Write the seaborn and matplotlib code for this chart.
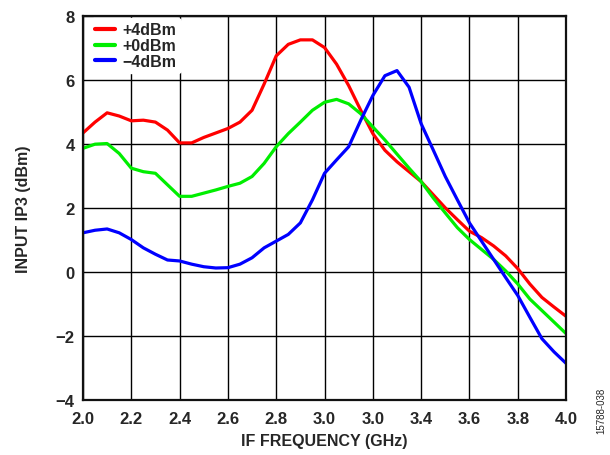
import matplotlib
matplotlib.use("Agg")
import matplotlib.pyplot as plt
import pandas as pd
import seaborn as sns

# IF frequency (GHz)
freq = [2.00, 2.05, 2.10, 2.15, 2.20, 2.25, 2.30, 2.35, 2.40, 2.45,
        2.50, 2.55, 2.60, 2.65, 2.70, 2.75, 2.80, 2.85, 2.90, 2.95,
        3.00, 3.05, 3.10, 3.15, 3.20, 3.25, 3.30, 3.35, 3.40, 3.45,
        3.50, 3.55, 3.60, 3.65, 3.70, 3.75, 3.80, 3.85, 3.90, 3.95, 4.00]

# input IP3 (dBm) per LO drive level
ip3_p4 = [4.34, 4.68, 4.97, 4.87, 4.72, 4.74, 4.68, 4.43, 4.03, 4.03,
          4.20, 4.34, 4.48, 4.68, 5.05, 5.87, 6.75, 7.11, 7.25, 7.25,
          7.01, 6.49, 5.82, 5.05, 4.32, 3.80, 3.44, 3.13, 2.82, 2.41,
          2.00, 1.63, 1.27, 1.07, 0.81, 0.50, 0.10, -0.38, -0.80, -1.10, -1.39]
ip3_0 = [3.86, 3.99, 4.01, 3.70, 3.24, 3.13, 3.08, 2.72, 2.36, 2.36,
         2.46, 2.56, 2.67, 2.77, 2.98, 3.39, 3.91, 4.32, 4.68, 5.05,
         5.30, 5.39, 5.25, 4.94, 4.53, 4.12, 3.68, 3.24, 2.82, 2.31,
         1.84, 1.38, 1.01, 0.70, 0.39, 0.03, -0.38, -0.85, -1.21, -1.57, -1.93]
ip3_m4 = [1.22, 1.30, 1.34, 1.22, 1.01, 0.75, 0.55, 0.37, 0.34, 0.24,
          0.16, 0.12, 0.13, 0.24, 0.44, 0.75, 0.96, 1.17, 1.53, 2.25,
          3.08, 3.50, 3.91, 4.74, 5.51, 6.13, 6.29, 5.77, 4.63, 3.81,
          2.98, 2.25, 1.53, 0.96, 0.39, -0.18, -0.74, -1.42, -2.09, -2.50, -2.86]

series = ["+4dBm", "+0dBm", "\u22124dBm"]
colors = ["#ff0000", "#00ee00", "#0000ff"]

xticks = [2.0, 2.2, 2.4, 2.6, 2.8, 3.0, 3.2, 3.4, 3.6, 3.8, 4.0]
xtick_labels = ["2.0", "2.2", "2.4", "2.6", "2.8", "3.0", "3.0", "3.4", "3.6", "3.8", "4.0"]
yticks = [-4, -2, 0, 2, 4, 6, 8]
ytick_labels = ["\u22124", "\u22122", "0", "2", "4", "6", "8"]

df = pd.concat([
    pd.DataFrame({"freq": freq, "ip3": vals, "level": name})
    for name, vals in zip(series, [ip3_p4, ip3_0, ip3_m4])
])

sns.set_style("white")
plt.rcParams["font.family"] = ["Liberation Sans", "DejaVu Sans"]
plt.rcParams["font.weight"] = "bold"
plt.rcParams["lines.solid_joinstyle"] = "round"
plt.rcParams["lines.solid_capstyle"] = "round"

fig = plt.figure(figsize=(6.1, 4.56), dpi=100)
ax = fig.add_axes([0.136, 0.121, 0.792, 0.842])

sns.lineplot(data=df, x="freq", y="ip3", hue="level", hue_order=series,
             palette=colors, linewidth=2.3, ax=ax, sort=True)

ax.set_xlim(2.0, 4.0)
ax.set_ylim(-4, 8)
ax.set_xticks(xticks)
ax.set_xticklabels(xtick_labels)
ax.set_yticks(yticks)
ax.set_yticklabels(ytick_labels)
ax.tick_params(length=0, labelsize=12, pad=6)
ax.tick_params(axis="x", pad=8)
for lab in ax.get_xticklabels() + ax.get_yticklabels():
    lab.set_fontweight("bold")
ax.grid(True, color="black", linewidth=1.0)
for s in ax.spines.values():
    s.set_color("#111111")
    s.set_linewidth(1.6)

ax.set_xlabel("IF FREQUENCY (GHz)", fontsize=11.5, fontweight="bold", labelpad=5)
ax.set_ylabel("INPUT IP3 (dBm)", fontsize=11.5, fontweight="bold", labelpad=18)

leg = ax.legend(loc="upper left", bbox_to_anchor=(0.006, 1.006), frameon=True,
                handlelength=1.3, handletextpad=0.45, labelspacing=0.05,
                borderpad=0.25, borderaxespad=0.3,
                prop={"weight": "bold", "size": 11.5})
leg.get_frame().set_edgecolor("white")
leg.get_frame().set_facecolor("white")
leg.get_frame().set_alpha(1.0)
for line in leg.get_lines():
    line.set_linewidth(3)

fig.text(0.985, 0.10, "15788-038", rotation=90, fontsize=7, ha="center",
         va="center", fontweight="normal")

fig.savefig("out.png", dpi=100)
